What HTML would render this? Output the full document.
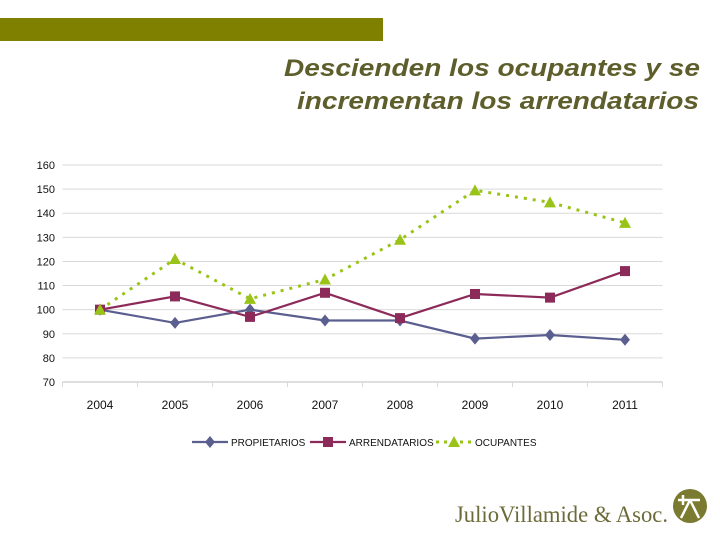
<!DOCTYPE html>
<html><head><meta charset="utf-8"><style>
html,body{margin:0;padding:0;background:#fff;}
svg{display:block;}
</style></head><body>
<svg width="720" height="540" xmlns="http://www.w3.org/2000/svg">
<rect x="0" y="18" width="383" height="23" fill="#7f7f00"/>
<text x="700" y="76" text-anchor="end" font-family="Liberation Sans, sans-serif" font-style="italic" font-weight="bold" font-size="24" fill="#5e5e2c" textLength="416" lengthAdjust="spacingAndGlyphs">Descienden los ocupantes y se</text>
<text x="699" y="109" text-anchor="end" font-family="Liberation Sans, sans-serif" font-style="italic" font-weight="bold" font-size="24" fill="#5e5e2c" textLength="402" lengthAdjust="spacingAndGlyphs">incrementan los arrendatarios</text>
<g id="chart"></g>
<text x="455" y="522" font-family="Liberation Serif, serif" font-size="23" fill="#6b6b3a" textLength="213" lengthAdjust="spacingAndGlyphs">JulioVillamide &amp; Asoc.</text>
<circle cx="690" cy="506" r="17" fill="#7a7a30"/>
<path d="M683 495 L683 505 M678 500 L700 500 M690 500 L681 518 M690 500 L699 518" stroke="#fff" stroke-width="2.5" fill="none"/>
</svg>
<script>
const categories=["2004","2005","2006","2007","2008","2009","2010","2011"];
const propietarios=[100,94.5,100,95.5,95.5,88,89.5,87.5];
const arrendatarios=[100,105.5,97,107,96.5,106.5,105,116];
const ocupantes=[100,121,104.5,112.5,129,149.5,144.5,136];
const yTicks=[70,80,90,100,110,120,130,140,150,160];
const NS="http://www.w3.org/2000/svg";
const g=document.getElementById('chart');
const L=62.5,R=662.5,T=165,B=382,yMin=70,yMax=160;
const bw=(R-L)/categories.length;
function xs(i){return L+bw*(i+0.5);}
function ys(v){return B-(v-yMin)/(yMax-yMin)*(B-T);}
function mk(tag,attrs){const e=document.createElementNS(NS,tag);for(const k in attrs)e.setAttribute(k,attrs[k]);g.appendChild(e);return e;}
yTicks.forEach(t=>{
 const ln=mk('line',{x1:L,x2:R,y1:ys(t),y2:ys(t),stroke:t===yMin?'#bdbdbd':'#d9d9d9','stroke-width':1});
 
 
 const tx=mk('text',{x:55,y:ys(t)+4,'text-anchor':'end','font-family':'Liberation Sans Narrow, Liberation Sans, sans-serif','font-size':11,fill:'#111','font-weight':'500'});
 tx.textContent=t;
 
 
});
for(let i=0;i<=categories.length;i++){
 const tk=mk('line',{x1:L+bw*i,x2:L+bw*i,y1:B,y2:B+5,stroke:'#d9d9d9'});
 
 
}
categories.forEach((c,i)=>{
 const tx=mk('text',{x:xs(i),y:409,'text-anchor':'middle','font-family':'Liberation Sans Narrow, Liberation Sans, sans-serif','font-size':12,fill:'#111'});
 tx.textContent=c;
 
 
});
function marker(type,x,y,col){
 let e;
 if(type==='d')e=mk('polygon',{points:`${x},${y-6} ${x+5},${y} ${x},${y+6} ${x-5},${y}`,fill:col});
 else if(type==='s')e=mk('rect',{x:x-5,y:y-5,width:10,height:10,fill:col});
 else e=mk('polygon',{points:`${x},${y-6} ${x+6},${y+5} ${x-6},${y+5}`,fill:col});
 return e;
}
const series=[
 {name:'propietarios',data:propietarios,col:'#5b5f8f',m:'d',dash:null},
 {name:'arrendatarios',data:arrendatarios,col:'#8c2b5a',m:'s',dash:null},
 {name:'ocupantes',data:ocupantes,col:'#99c417',m:'t',dash:'3,6'}
];
series.forEach(s=>{
 const pts=s.data.map((v,i)=>xs(i)+','+ys(v)).join(' ');
 const pl=mk('polyline',{points:pts,fill:'none',stroke:s.col,'stroke-width':s.dash?3:2.2});
 if(s.dash){pl.setAttribute('stroke-dasharray',s.dash);}
 
 
 s.data.forEach((v,i)=>{
  const e=marker(s.m,xs(i),ys(v),s.col);
  
  
 });
});
const leg=[{n:'PROPIETARIOS',x:192,s:series[0]},{n:'ARRENDATARIOS',x:310,s:series[1]},{n:'OCUPANTES',x:436,s:series[2]}];
leg.forEach(l=>{
 const y=442;
 const ln=mk('line',{x1:l.x,x2:l.x+36,y1:y,y2:y,stroke:l.s.col,'stroke-width':l.s.dash?3:2.2});
 if(l.s.dash)ln.setAttribute('stroke-dasharray','3,5');
 
 
 const m=marker(l.s.m,l.x+18,y,l.s.col);
 
 
 const tx=mk('text',{x:l.x+39,y:y+4,'font-family':'Liberation Sans Narrow, Liberation Sans, sans-serif','font-size':10,fill:'#111'});
 tx.textContent=l.n;
 
 
});
</script>
</body></html>
